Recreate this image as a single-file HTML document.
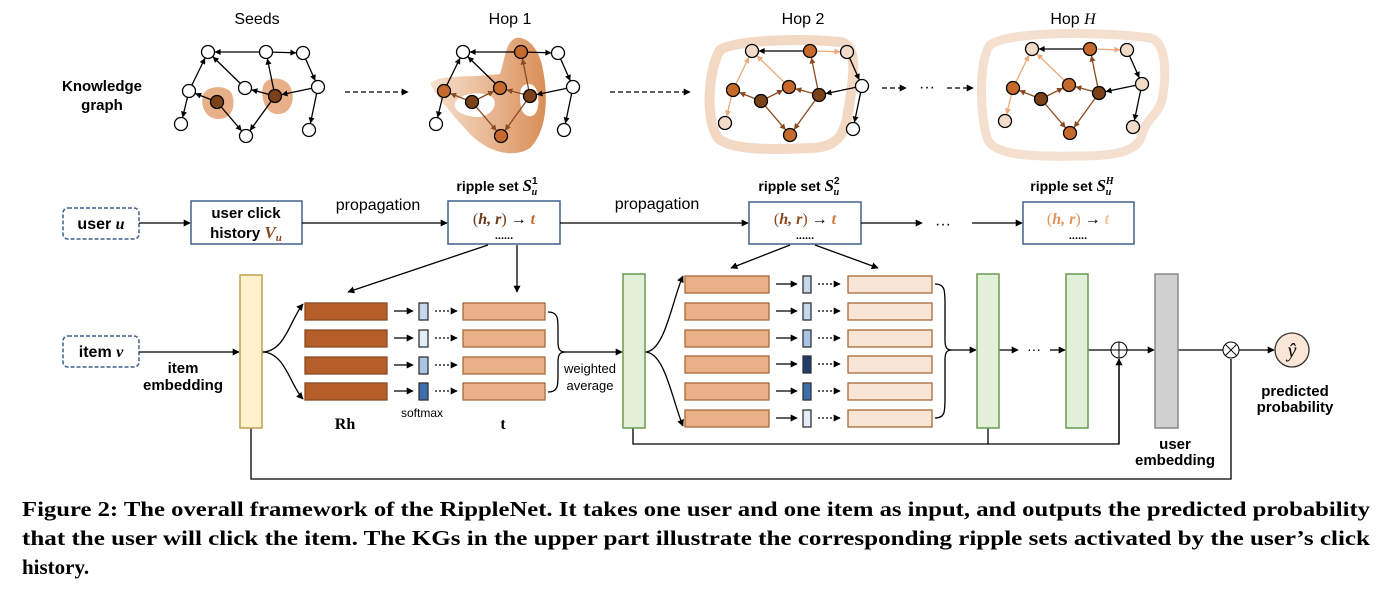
<!DOCTYPE html>
<html><head><meta charset="utf-8"><style>
html,body{margin:0;padding:0;background:#fff}
svg{display:block}
.s{font-family:"Liberation Sans",sans-serif}
.b{font-family:"Liberation Sans",sans-serif;font-weight:bold}
.m{font-family:"Liberation Serif",serif;font-weight:bold;font-style:italic}
.cap{font-family:"Liberation Serif",serif;font-weight:bold;font-size:21px}
</style></head><body>
<svg width="1396" height="593" viewBox="0 0 1396 593" xmlns="http://www.w3.org/2000/svg">
<defs>
<marker id="nk" viewBox="0 0 10 10" refX="21" refY="5" markerWidth="6" markerHeight="6" orient="auto" markerUnits="userSpaceOnUse" overflow="visible"><path d="M0,0L10,5L0,10z" fill="#000"/></marker>
<marker id="nb" viewBox="0 0 10 10" refX="21" refY="5" markerWidth="6" markerHeight="6" orient="auto" markerUnits="userSpaceOnUse" overflow="visible"><path d="M0,0L10,5L0,10z" fill="#8a4a20"/></marker>
<marker id="nl" viewBox="0 0 10 10" refX="21" refY="5" markerWidth="6" markerHeight="6" orient="auto" markerUnits="userSpaceOnUse" overflow="visible"><path d="M0,0L10,5L0,10z" fill="#eba97c"/></marker>
<marker id="ar" viewBox="0 0 10 10" refX="9" refY="5" markerWidth="7" markerHeight="7" orient="auto" markerUnits="userSpaceOnUse"><path d="M0,0L10,5L0,10z" fill="#000"/></marker>
<linearGradient id="g1" x1="0" x2="1" y1="0" y2="0"><stop offset="0" stop-color="#f7e2d0"/><stop offset="1" stop-color="#d98f58"/></linearGradient>
</defs>

<!-- labels -->
<text class="s" x="257" y="24" font-size="16" text-anchor="middle">Seeds</text>
<text class="s" x="510" y="24" font-size="16" text-anchor="middle">Hop 1</text>
<text class="s" x="803" y="24" font-size="16" text-anchor="middle">Hop 2</text>
<text class="s" x="1073" y="24" font-size="16" text-anchor="middle">Hop <tspan font-family="Liberation Serif" font-style="italic">H</tspan></text>
<text class="b" x="102" y="91" font-size="15" text-anchor="middle">Knowledge</text>
<text class="b" x="102" y="110" font-size="15" text-anchor="middle">graph</text>

<!-- blobs -->
<path d="M203,96 C205,85 228,84 232,94 C236,106 232,118 220,119 C206,120 200,106 203,96Z" fill="#e8b088"/>
<path d="M263,86 C266,76 284,76 290,86 C296,98 292,112 280,114 C266,116 260,98 263,86Z" fill="#e8b088"/>
<path d="M430,84 C438,74 470,78 500,74 C505,60 505,42 516,38 C528,36 540,50 543,70 C548,95 548,130 530,148 C515,158 490,154 470,134 C455,118 438,98 430,84Z M455,103 C458,94 480,90 492,97 C500,104 490,118 476,117 C462,116 453,110 455,103Z M520,95 C520,80 536,80 538,95 C540,110 535,118 528,116 C521,114 520,105 520,95Z" fill="url(#g1)" fill-rule="evenodd"/>
<path d="M720,50 C735,40 800,38 840,42 C856,44 855,70 850,100 C846,125 845,148 810,148 C770,150 730,150 718,138 C705,120 708,70 720,50Z" fill="none" stroke="#f3d9c4" stroke-width="10"/>
<path d="M990,45 C1010,30 1110,32 1150,38 C1168,42 1166,80 1162,100 C1158,115 1145,120 1142,135 C1138,150 1120,156 1080,156 C1030,157 995,155 988,140 C980,120 978,60 990,45Z" fill="none" stroke="#f5dfce" stroke-width="9"/>

<!-- Seeds graph -->
<g id="gS" stroke-width="1.3">
<g stroke="#000" fill="none" marker-end="url(#nk)">
<line x1="266" y1="52" x2="208" y2="52"/><line x1="266" y1="52" x2="303" y2="53"/><line x1="303" y1="53" x2="318" y2="87"/><line x1="318" y1="87" x2="275" y2="96"/><line x1="275" y1="96" x2="266" y2="52"/><line x1="275" y1="96" x2="245" y2="88"/><line x1="245" y1="88" x2="208" y2="52"/><line x1="189" y1="91" x2="208" y2="52"/><line x1="217" y1="102" x2="189" y2="91"/><line x1="217" y1="102" x2="246" y2="136"/><line x1="275" y1="96" x2="246" y2="136"/><line x1="189" y1="91" x2="181" y2="124"/><line x1="318" y1="87" x2="309" y2="130"/>
</g>
<g stroke="#000" stroke-width="1.3" fill="#fff">
<circle cx="208" cy="52" r="6.5"/><circle cx="266" cy="52" r="6.5"/><circle cx="303" cy="53" r="6.5"/><circle cx="189" cy="91" r="6.5"/><circle cx="245" cy="88" r="6.5"/><circle cx="181" cy="124" r="6.5"/><circle cx="246" cy="136" r="6.5"/><circle cx="318" cy="87" r="6.5"/><circle cx="309" cy="130" r="6.5"/>
<circle cx="275" cy="96" r="6.5" fill="#7b4219"/><circle cx="217" cy="102" r="6.5" fill="#7b4219"/>
</g></g>

<!-- Hop 1 -->
<g transform="translate(255,0)" stroke-width="1.3">
<g stroke="#000" fill="none" marker-end="url(#nk)">
<line x1="266" y1="52" x2="208" y2="52"/><line x1="266" y1="52" x2="303" y2="53"/><line x1="303" y1="53" x2="318" y2="87"/><line x1="318" y1="87" x2="275" y2="96"/><line x1="245" y1="88" x2="208" y2="52"/><line x1="189" y1="91" x2="208" y2="52"/><line x1="189" y1="91" x2="181" y2="124"/><line x1="318" y1="87" x2="309" y2="130"/>
</g>
<g stroke="#8a4a20" fill="none" marker-end="url(#nb)">
<line x1="275" y1="96" x2="266" y2="52"/><line x1="275" y1="96" x2="245" y2="88"/><line x1="275" y1="96" x2="246" y2="136"/><line x1="217" y1="102" x2="189" y2="91"/><line x1="217" y1="102" x2="245" y2="88"/><line x1="217" y1="102" x2="246" y2="136"/>
</g>
<g stroke="#000" fill="#fff">
<circle cx="208" cy="52" r="6.5"/><circle cx="303" cy="53" r="6.5"/><circle cx="181" cy="124" r="6.5"/><circle cx="318" cy="87" r="6.5"/><circle cx="309" cy="130" r="6.5"/>
<circle cx="266" cy="52" r="6.5" fill="#c5692c"/><circle cx="189" cy="91" r="6.5" fill="#c5692c"/><circle cx="245" cy="88" r="6.5" fill="#c5692c"/><circle cx="246" cy="136" r="6.5" fill="#c5692c"/>
<circle cx="275" cy="96" r="6.5" fill="#7b4219"/><circle cx="217" cy="102" r="6.5" fill="#7b4219"/>
</g></g>

<!-- Hop 2 -->
<g transform="translate(544,-1)" stroke-width="1.3">
<g stroke="#000" fill="none" marker-end="url(#nk)">
<line x1="266" y1="52" x2="208" y2="52"/><line x1="303" y1="53" x2="318" y2="87"/><line x1="318" y1="87" x2="275" y2="96"/><line x1="318" y1="87" x2="309" y2="130"/>
</g>
<g stroke="#eba97c" fill="none" marker-end="url(#nl)">
<line x1="266" y1="52" x2="303" y2="53"/><line x1="245" y1="88" x2="208" y2="52"/><line x1="189" y1="91" x2="208" y2="52"/><line x1="189" y1="91" x2="181" y2="124"/>
</g>
<g stroke="#8a4a20" fill="none" marker-end="url(#nb)">
<line x1="275" y1="96" x2="266" y2="52"/><line x1="275" y1="96" x2="245" y2="88"/><line x1="275" y1="96" x2="246" y2="136"/><line x1="217" y1="102" x2="189" y2="91"/><line x1="217" y1="102" x2="245" y2="88"/><line x1="217" y1="102" x2="246" y2="136"/>
</g>
<g stroke="#000" fill="#fff">
<circle cx="318" cy="87" r="6.5"/><circle cx="309" cy="130" r="6.5"/>
<circle cx="208" cy="52" r="6.5" fill="#f2dcc8"/><circle cx="303" cy="53" r="6.5" fill="#f2dcc8"/><circle cx="181" cy="124" r="6.5" fill="#f2dcc8"/>
<circle cx="266" cy="52" r="6.5" fill="#c5692c"/><circle cx="189" cy="91" r="6.5" fill="#c5692c"/><circle cx="245" cy="88" r="6.5" fill="#c5692c"/><circle cx="246" cy="136" r="6.5" fill="#c5692c"/>
<circle cx="275" cy="96" r="6.5" fill="#7b4219"/><circle cx="217" cy="102" r="6.5" fill="#7b4219"/>
</g></g>

<!-- Hop H -->
<g transform="translate(824,-3)" stroke-width="1.3">
<g stroke="#000" fill="none" marker-end="url(#nk)">
<line x1="266" y1="52" x2="208" y2="52"/><line x1="303" y1="53" x2="318" y2="87"/><line x1="318" y1="87" x2="275" y2="96"/><line x1="318" y1="87" x2="309" y2="130"/>
</g>
<g stroke="#eba97c" fill="none" marker-end="url(#nl)">
<line x1="266" y1="52" x2="303" y2="53"/><line x1="245" y1="88" x2="208" y2="52"/><line x1="189" y1="91" x2="208" y2="52"/><line x1="189" y1="91" x2="181" y2="124"/>
</g>
<g stroke="#8a4a20" fill="none" marker-end="url(#nb)">
<line x1="275" y1="96" x2="266" y2="52"/><line x1="275" y1="96" x2="245" y2="88"/><line x1="275" y1="96" x2="246" y2="136"/><line x1="217" y1="102" x2="189" y2="91"/><line x1="217" y1="102" x2="245" y2="88"/><line x1="217" y1="102" x2="246" y2="136"/>
</g>
<g stroke="#000" fill="#f2dcc8">
<circle cx="318" cy="87" r="6.5"/><circle cx="309" cy="130" r="6.5"/>
<circle cx="208" cy="52" r="6.5"/><circle cx="303" cy="53" r="6.5"/><circle cx="181" cy="124" r="6.5"/>
<circle cx="266" cy="52" r="6.5" fill="#c5692c"/><circle cx="189" cy="91" r="6.5" fill="#c5692c"/><circle cx="245" cy="88" r="6.5" fill="#c5692c"/><circle cx="246" cy="136" r="6.5" fill="#c5692c"/>
<circle cx="275" cy="96" r="6.5" fill="#7b4219"/><circle cx="217" cy="102" r="6.5" fill="#7b4219"/>
</g></g>

<!-- dashed arrows top -->
<g stroke="#000" stroke-width="1.3" stroke-dasharray="5,3" marker-end="url(#ar)">
<line x1="345" y1="92" x2="408" y2="92"/><line x1="610" y1="92" x2="690" y2="92"/><line x1="882" y1="88" x2="906" y2="88"/><line x1="947" y1="88" x2="973" y2="88"/>
</g>
<text class="s" x="927" y="92" font-size="16" text-anchor="middle">···</text>

<!-- middle row -->
<rect x="63" y="208" width="76" height="31" rx="5" fill="#fff" stroke="#41618a" stroke-width="1.5" stroke-dasharray="4,2"/>
<text class="b" x="101" y="229" font-size="16" text-anchor="middle">user <tspan class="m" font-weight="normal">u</tspan></text>
<rect x="191" y="201" width="111" height="43" fill="#fff" stroke="#41618a" stroke-width="1.5"/>
<text class="b" x="246" y="218" font-size="15" text-anchor="middle">user click</text>
<text class="b" x="246" y="238" font-size="15" text-anchor="middle">history <tspan class="m" fill="#8a4a20" font-size="17">V<tspan font-size="11" dy="3">u</tspan></tspan></text>
<rect x="448" y="201" width="112" height="43" fill="#fff" stroke="#41618a" stroke-width="1.5"/>
<rect x="749" y="202" width="112" height="42" fill="#fff" stroke="#41618a" stroke-width="1.5"/>
<rect x="1023" y="202" width="111" height="42" fill="#fff" stroke="#41618a" stroke-width="1.5"/>
<g font-size="16" text-anchor="middle">
<text x="504" y="224" font-family="Liberation Serif"><tspan fill="#6b3a18">(</tspan><tspan class="m" fill="#6b3a18">h, r</tspan><tspan fill="#6b3a18">)</tspan> → <tspan class="m" fill="#c5692c">t</tspan></text>
<text x="805" y="224" font-family="Liberation Serif"><tspan fill="#8a4a20">(</tspan><tspan class="m" fill="#8a4a20">h, r</tspan><tspan fill="#8a4a20">)</tspan> → <tspan class="m" fill="#d07a3a">t</tspan></text>
<text x="1078" y="224" font-family="Liberation Serif"><tspan fill="#e0945a">(</tspan><tspan class="m" fill="#e0945a">h, r</tspan><tspan fill="#e0945a">)</tspan> → <tspan class="m" fill="#f0c09a">t</tspan></text>
</g>
<g class="b" font-size="11" text-anchor="middle"><text x="504" y="239">......</text><text x="805" y="239">......</text><text x="1078" y="239">......</text></g>
<g class="b" font-size="14" text-anchor="middle">
<text x="497" y="191">ripple set <tspan class="m" font-weight="normal" font-size="17">S</tspan><tspan font-size="10" dy="-7">1</tspan><tspan font-size="10" dx="-6" dy="11" class="m">u</tspan></text>
<text x="799" y="191">ripple set <tspan class="m" font-weight="normal" font-size="17">S</tspan><tspan font-size="10" dy="-7">2</tspan><tspan font-size="10" dx="-6" dy="11" class="m">u</tspan></text>
<text x="1072" y="191">ripple set <tspan class="m" font-weight="normal" font-size="17">S</tspan><tspan font-size="10" dy="-7" class="m">H</tspan><tspan font-size="10" dx="-8" dy="11" class="m">u</tspan></text>
</g>
<text class="s" x="378" y="210" font-size="16" text-anchor="middle">propagation</text>
<text class="s" x="657" y="209" font-size="16" text-anchor="middle">propagation</text>
<text class="s" x="943" y="229" font-size="16" text-anchor="middle">···</text>
<g stroke="#000" stroke-width="1.3" fill="none" marker-end="url(#ar)">
<line x1="139" y1="223" x2="190" y2="223"/><line x1="302" y1="223" x2="447" y2="223"/><line x1="560" y1="223" x2="748" y2="223"/><line x1="861" y1="223" x2="922" y2="223"/><line x1="972" y1="223" x2="1022" y2="223"/>
<line x1="488" y1="245" x2="348" y2="292"/><line x1="517" y1="245" x2="517" y2="292"/>
<line x1="790" y1="245" x2="731" y2="268"/><line x1="815" y1="245" x2="878" y2="268"/>
</g>

<!-- bottom row -->
<rect x="63" y="336" width="76" height="31" rx="5" fill="#fff" stroke="#41618a" stroke-width="1.5" stroke-dasharray="4,2"/>
<text class="b" x="101" y="357" font-size="16" text-anchor="middle">item <tspan class="m" font-weight="normal">v</tspan></text>
<text class="b" x="183" y="373" font-size="15" text-anchor="middle">item</text>
<text class="b" x="183" y="390" font-size="15" text-anchor="middle">embedding</text>
<g stroke="#000" stroke-width="1.3" fill="none">
<line x1="139" y1="352" x2="239" y2="352" marker-end="url(#ar)"/>
<polyline points="251,428 251,479 1231,479 1231,359"/>
<polyline points="633,428 633,444 1119,444 1119,359" />
<line x1="988" y1="428" x2="988" y2="444"/>
<path d="M262,352 C285,352 290,320 303,304" marker-end="url(#ar)"/>
<path d="M262,352 C285,352 290,385 303,399" marker-end="url(#ar)"/>
<path d="M645,352 C665,352 672,300 683,276" marker-end="url(#ar)"/>
<path d="M645,352 C665,352 672,400 683,426" marker-end="url(#ar)"/>
<path d="M548,312 C558,312 558,318 558,330 L558,342 C558,350 560,352 566,352 M548,392 C558,392 558,386 558,374 L558,362 C558,354 560,352 566,352"/>
<line x1="566" y1="352" x2="622" y2="352" marker-end="url(#ar)"/>
<path d="M935,284 C945,284 945,290 945,305 L945,340 C945,348 947,350 952,350 M935,418 C945,418 945,412 945,397 L945,360 C945,352 947,350 952,350"/>
<line x1="952" y1="350" x2="976" y2="350" marker-end="url(#ar)"/>
<line x1="999" y1="350" x2="1018" y2="350" marker-end="url(#ar)"/>
<line x1="1050" y1="350" x2="1065" y2="350" marker-end="url(#ar)"/>
<line x1="1088" y1="350" x2="1111" y2="350"/>
<line x1="1127" y1="350" x2="1154" y2="350" marker-end="url(#ar)"/>
<line x1="1178" y1="350" x2="1223" y2="350"/>
<line x1="1239" y1="350" x2="1274" y2="350" marker-end="url(#ar)"/>
<line x1="1119" y1="444" x2="1119" y2="359" marker-end="url(#ar)"/>
</g>
<text class="s" x="1034" y="354" font-size="14" text-anchor="middle">···</text>
<rect x="240" y="275" width="22" height="153" fill="#fdf2cc" stroke="#bfa050" stroke-width="1.5"/>
<rect x="623" y="274" width="22" height="154" fill="#e2efd9" stroke="#6a9a50" stroke-width="1.5"/>
<rect x="977" y="274" width="22" height="154" fill="#e2efd9" stroke="#6a9a50" stroke-width="1.5"/>
<rect x="1066" y="274" width="22" height="154" fill="#e2efd9" stroke="#6a9a50" stroke-width="1.5"/>
<rect x="1155" y="274" width="23" height="154" fill="#d0d0d0" stroke="#888" stroke-width="1.5"/>
<circle cx="1119" cy="350" r="8" fill="#fff" stroke="#000"/>
<path d="M1111,350H1127M1119,342V358" stroke="#000"/>
<circle cx="1231" cy="350" r="8" fill="#fff" stroke="#000"/>
<path d="M1225.3,344.3L1236.7,355.7M1236.7,344.3L1225.3,355.7" stroke="#000"/>
<circle cx="1292" cy="350" r="17" fill="#fbe5d6" stroke="#333" stroke-width="1.3"/>
<text x="1292" y="357" font-family="Liberation Serif" font-style="italic" font-size="20" text-anchor="middle">ŷ</text>
<text class="b" x="1295" y="396" font-size="15" text-anchor="middle">predicted</text>
<text class="b" x="1295" y="412" font-size="15" text-anchor="middle">probability</text>
<text class="b" x="1175" y="449" font-size="15" text-anchor="middle">user</text>
<text class="b" x="1175" y="465" font-size="15" text-anchor="middle">embedding</text>

<!-- hop1 rows -->
<g stroke-width="1.3">
<g fill="#b55e2a" stroke="#8c4a20">
<rect x="305" y="303" width="82" height="17"/><rect x="305" y="330" width="82" height="17"/><rect x="305" y="357" width="82" height="17"/><rect x="305" y="383" width="82" height="17"/>
</g>
<g fill="#e9b088" stroke="#a86a3a">
<rect x="463" y="303" width="82" height="17"/><rect x="463" y="330" width="82" height="17"/><rect x="463" y="357" width="82" height="17"/><rect x="463" y="383" width="82" height="17"/>
</g>
<g stroke="#333">
<rect x="419" y="303" width="9" height="17" fill="#c5d9ee"/><rect x="419" y="330" width="9" height="17" fill="#e3edf7"/><rect x="419" y="357" width="9" height="17" fill="#a9c5e5"/><rect x="419" y="383" width="9" height="17" fill="#3e6eae"/>
</g>
<g stroke="#000" marker-end="url(#ar)">
<line x1="394" y1="311" x2="413" y2="311"/><line x1="394" y1="338" x2="413" y2="338"/><line x1="394" y1="365" x2="413" y2="365"/><line x1="394" y1="391" x2="413" y2="391"/>
</g>
<g stroke="#000" stroke-dasharray="2,2" marker-end="url(#ar)">
<line x1="435" y1="311" x2="457" y2="311"/><line x1="435" y1="338" x2="457" y2="338"/><line x1="435" y1="365" x2="457" y2="365"/><line x1="435" y1="391" x2="457" y2="391"/>
</g>
</g>
<text class="s" x="422" y="417" font-size="12" text-anchor="middle">softmax</text>
<text x="345" y="429" font-family="Liberation Serif" font-weight="bold" font-size="16" text-anchor="middle">Rh</text>
<text x="503" y="429" font-family="Liberation Serif" font-weight="bold" font-size="16" text-anchor="middle">t</text>
<text class="s" x="590" y="373" font-size="13" text-anchor="middle">weighted</text>
<text class="s" x="590" y="390" font-size="13" text-anchor="middle">average</text>

<!-- hop2 rows -->
<g stroke-width="1.3">
<g fill="#e9b088" stroke="#a86a3a">
<rect x="685" y="276" width="84" height="17"/><rect x="685" y="303" width="84" height="17"/><rect x="685" y="330" width="84" height="17"/><rect x="685" y="356" width="84" height="17"/><rect x="685" y="383" width="84" height="17"/><rect x="685" y="410" width="84" height="17"/>
</g>
<g fill="#f8e5d6" stroke="#a86a3a">
<rect x="848" y="276" width="84" height="17"/><rect x="848" y="303" width="84" height="17"/><rect x="848" y="330" width="84" height="17"/><rect x="848" y="356" width="84" height="17"/><rect x="848" y="383" width="84" height="17"/><rect x="848" y="410" width="84" height="17"/>
</g>
<g stroke="#333">
<rect x="803" y="276" width="8" height="17" fill="#c5d9ee"/><rect x="803" y="303" width="8" height="17" fill="#c5d9ee"/><rect x="803" y="330" width="8" height="17" fill="#a9c5e5"/><rect x="803" y="356" width="8" height="17" fill="#1f3d6a"/><rect x="803" y="383" width="8" height="17" fill="#3e6eae"/><rect x="803" y="410" width="8" height="17" fill="#e3edf7"/>
</g>
<g stroke="#000" marker-end="url(#ar)">
<line x1="776" y1="284" x2="797" y2="284"/><line x1="776" y1="311" x2="797" y2="311"/><line x1="776" y1="338" x2="797" y2="338"/><line x1="776" y1="364" x2="797" y2="364"/><line x1="776" y1="391" x2="797" y2="391"/><line x1="776" y1="418" x2="797" y2="418"/>
</g>
<g stroke="#000" stroke-dasharray="2,2" marker-end="url(#ar)">
<line x1="818" y1="284" x2="840" y2="284"/><line x1="818" y1="311" x2="840" y2="311"/><line x1="818" y1="338" x2="840" y2="338"/><line x1="818" y1="364" x2="840" y2="364"/><line x1="818" y1="391" x2="840" y2="391"/><line x1="818" y1="418" x2="840" y2="418"/>
</g>
</g>

<!-- caption -->
<text class="cap" x="22" y="516" textLength="1348" lengthAdjust="spacingAndGlyphs">Figure 2: The overall framework of the RippleNet. It takes one user and one item as input, and outputs the predicted probability</text>
<text class="cap" x="22" y="545" textLength="1348" lengthAdjust="spacingAndGlyphs">that the user will click the item. The KGs in the upper part illustrate the corresponding ripple sets activated by the user’s click</text>
<text class="cap" x="22" y="574">history.</text>
</svg>
</body></html>
